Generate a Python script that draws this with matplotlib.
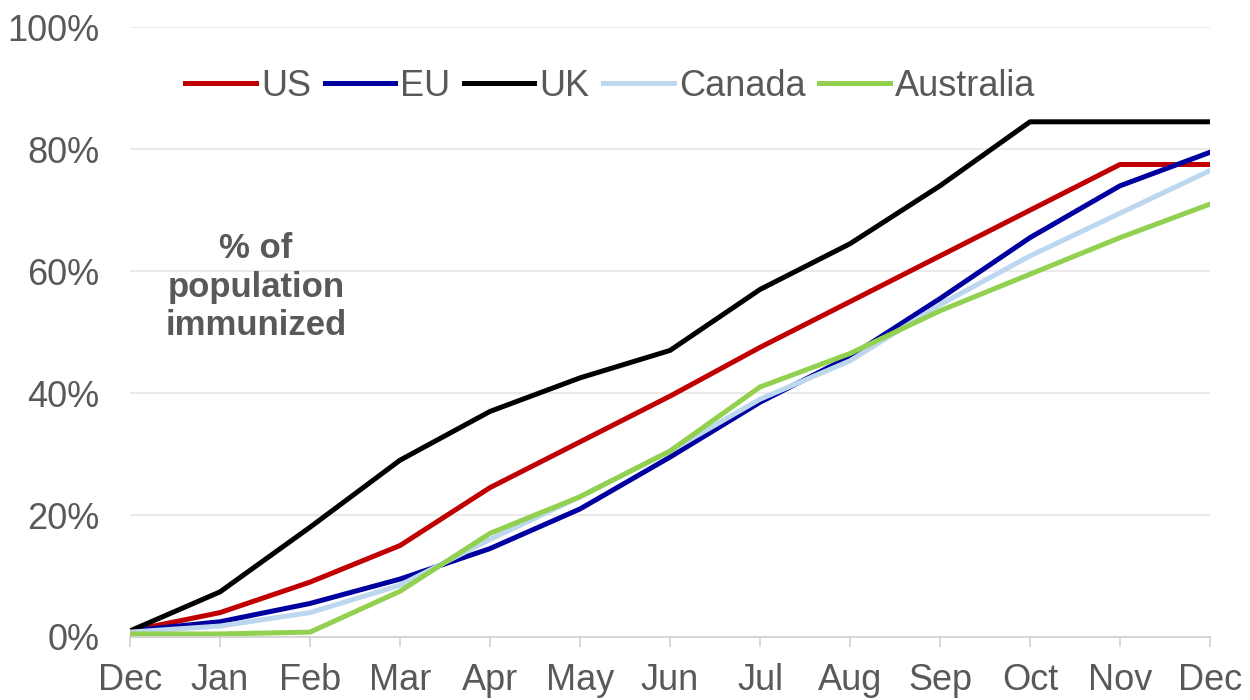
import matplotlib.pyplot as plt
from matplotlib.ticker import FuncFormatter

plt.rcParams['font.family'] = ['Liberation Sans', 'DejaVu Sans']

months = ['Dec', 'Jan', 'Feb', 'Mar', 'Apr', 'May', 'Jun',
          'Jul', 'Aug', 'Sep', 'Oct', 'Nov', 'Dec']

# share of population immunized, %
us = [1.0, 4.0, 9.0, 15.0, 24.5, 32.0, 39.5, 47.5, 55.0, 62.5, 70.0, 77.5, 77.5]
eu = [1.0, 2.5, 5.5, 9.5, 14.5, 21.0, 29.5, 38.5, 46.0, 55.5, 65.5, 74.0, 79.5]
uk = [1.0, 7.4, 18.0, 29.0, 37.0, 42.5, 47.0, 57.0, 64.5, 74.0, 84.5, 84.5, 84.5]
canada = [0.8, 1.8, 4.0, 8.5, 16.0, 23.0, 30.5, 39.0, 45.3, 54.5, 62.5, 69.5, 76.5]
australia = [0.5, 0.5, 0.8, 7.5, 17.0, 23.0, 30.5, 41.0, 46.5, 53.5, 59.5, 65.5, 71.0]

series = [('US', us, '#C00000'),
          ('EU', eu, '#0000A0'),
          ('UK', uk, '#000000'),
          ('Canada', canada, '#BDD7EE'),
          ('Australia', australia, '#92D050')]

grey = '#595959'

fig = plt.figure(figsize=(12.5, 7), dpi=100)
ax = fig.add_axes([0.104, 0.09, 0.864, 0.871])

x = list(range(len(months)))
for name, vals, col in series:
    ax.plot(x, vals, color=col, lw=3.6, label=name, solid_joinstyle='round')

ax.set_xlim(0, len(months) - 1)
ax.set_ylim(0, 100)
ax.set_yticks(range(0, 101, 20))
ax.yaxis.set_major_formatter(FuncFormatter(lambda v, p: f'{v:.0f}%'))
ax.set_xticks(x)
ax.set_xticklabels(months)

ax.grid(axis='y', color='#e6e6e6', lw=1.2)
ax.set_axisbelow(True)
for s in ['top', 'right', 'left']:
    ax.spines[s].set_visible(False)
ax.spines['bottom'].set_color('#d0d0d0')
ax.spines['bottom'].set_linewidth(1.2)

ax.tick_params(axis='y', length=0, labelsize=26, labelcolor=grey, pad=22)
ax.tick_params(axis='x', length=7, color='#d0d0d0', width=1.2,
               labelsize=26, labelcolor=grey, pad=12)

ax.text(1.4, 57.4, '% of\npopulation\nimmunized', ha='center', va='center',
        fontsize=25, fontweight='bold', color=grey, linespacing=1.2)

leg = ax.legend(loc='center left', bbox_to_anchor=(0.038, 0.903), ncol=5,
                frameon=False, fontsize=26, handlelength=1.95,
                handletextpad=0.14, columnspacing=0.38, borderaxespad=0)
for t in leg.get_texts():
    t.set_color(grey)

fig.savefig('out.png', dpi=100, facecolor='white')
